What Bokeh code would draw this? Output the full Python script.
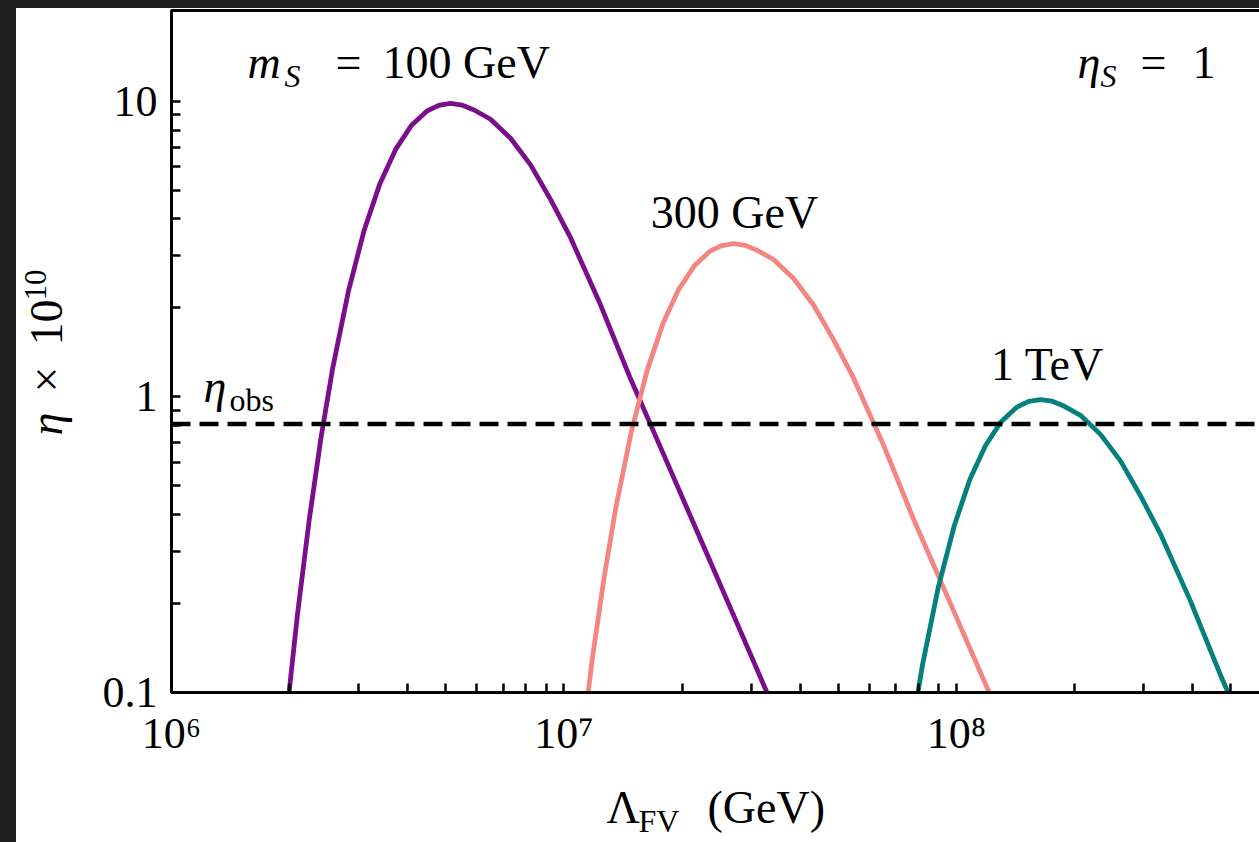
import math

from bokeh.core.properties import value
from bokeh.embed import file_html
from bokeh.layouts import column, row
from bokeh.models import FixedTicker, Span
from bokeh.plotting import figure
from bokeh.resources import INLINE

# Baryon asymmetry eta x 1e10 versus the flavour scale Lambda_FV (GeV), eta_S = 1
lam_100 = [1.977e6, 2.094e6, 2.244e6, 2.404e6, 2.576e6, 2.825e6, 3.097e6, 3.396e6,
           3.724e6, 4.083e6, 4.477e6, 4.797e6, 5.140e6, 5.508e6, 5.902e6, 6.501e6,
           7.311e6, 8.222e6, 9.247e6, 1.040e7, 1.239e7, 1.476e7, 1.762e7, 2.228e7,
           2.818e7, 3.357e7]
eta_100 = [0.0905, 0.1837, 0.3848, 0.728, 1.256, 2.287, 3.666, 5.269,
           6.88, 8.28, 9.28, 9.70, 9.84, 9.71, 9.35, 8.7,
           7.5, 6.1, 4.65, 3.45, 2.05, 1.156, 0.675, 0.330,
           0.161, 0.094]

lam_300 = [1.102e7, 1.180e7, 1.265e7, 1.355e7, 1.486e7, 1.629e7, 1.786e7, 1.959e7,
           2.148e7, 2.355e7, 2.523e7, 2.704e7, 2.897e7, 3.105e7, 3.420e7, 3.846e7,
           4.325e7, 4.864e7, 5.470e7, 6.516e7, 7.762e7, 9.268e7, 1.172e8, 1.483e8]
eta_300 = [0.0616, 0.1291, 0.2442, 0.4213, 0.767, 1.230, 1.767, 2.308,
           2.777, 3.113, 3.253, 3.300, 3.257, 3.136, 2.918, 2.516,
           2.046, 1.560, 1.157, 0.688, 0.388, 0.2264, 0.1107, 0.0540]

lam_1000 = [7.656e7, 8.204e7, 8.995e7, 9.863e7, 1.081e8, 1.186e8, 1.300e8, 1.426e8,
            1.528e8, 1.637e8, 1.754e8, 1.879e8, 2.070e8, 2.328e8, 2.618e8, 2.944e8,
            3.311e8, 3.945e8, 4.699e8, 5.610e8]
eta_1000 = [0.0725, 0.1251, 0.2278, 0.3651, 0.5248, 0.6852, 0.8247, 0.9243,
            0.9661, 0.980, 0.9671, 0.9313, 0.8665, 0.747, 0.6076, 0.4631,
            0.3436, 0.2042, 0.1151, 0.0672]

eta_obs = 0.81

x_major = [1e6, 1e7, 1e8]
x_major_labels = ["10⁶", "10⁷", "10⁸"]
y_major = [0.1, 1, 10]
y_major_labels = ["0.1", "1", "10"]

X_START, X_END = 1e6, 6.275e8
Y_START, Y_END = 0.1, 20.3

SERIF = "Liberation Serif"
BIG = 46
SMALL = 32

# ---- geometry of the three panels (pixels) ----
SIDE_W = 80          # strip holding the vertical axis title
MAIN_W, MAIN_H = 1173, 760
BORDER_L, BORDER_T, BORDER_B = 75, 2, 76
FOOT_H = 74          # strip holding the horizontal axis title
FRAME_W = MAIN_W - BORDER_L
FRAME_H = MAIN_H - BORDER_T - BORDER_B

p = figure(width=MAIN_W, height=MAIN_H,
           x_axis_type="log", y_axis_type="log",
           x_range=(X_START, X_END), y_range=(Y_START, Y_END),
           output_backend="svg", toolbar_location=None,
           min_border_left=BORDER_L, min_border_right=0,
           min_border_top=BORDER_T, min_border_bottom=BORDER_B)

p.background_fill_color = "white"
p.border_fill_color = "white"
p.outline_line_color = "black"
p.outline_line_width = 3
p.grid.visible = False

x_minor = [k * d for d in (1e6, 1e7, 1e8) for k in range(2, 10) if k * d < X_END]
y_minor = [k * d for d in (0.1, 1.0) for k in range(2, 10)]

p.xaxis.ticker = FixedTicker(ticks=x_major, minor_ticks=x_minor)
p.yaxis.ticker = FixedTicker(ticks=y_major, minor_ticks=y_minor)
p.xaxis.major_label_overrides = dict(zip(x_major, x_major_labels))
p.yaxis.major_label_overrides = dict(zip(y_major, y_major_labels))

for ax in (p.xaxis[0], p.yaxis[0]):
    ax.axis_line_width = 3
    ax.axis_line_color = "black"
    ax.major_tick_in = 9
    ax.major_tick_out = 0
    ax.minor_tick_in = 9
    ax.minor_tick_out = 0
    ax.major_tick_line_width = 2.5
    ax.minor_tick_line_width = 2.5
    ax.major_tick_line_color = "black"
    ax.minor_tick_line_color = "black"
    ax.major_label_text_font = SERIF
    ax.major_label_text_font_size = "44px"
    ax.major_label_text_color = "black"

p.xaxis.major_label_standoff = 16
p.yaxis.major_label_standoff = 14

# observed value
p.add_layout(Span(location=eta_obs, dimension="width", line_color="black",
                  line_width=4.5, line_dash="19 9"))

curves = [
    (lam_100, eta_100, "#7b0f8b"),
    (lam_300, eta_300, "#f38583"),
    (lam_1000, eta_1000, "#06807e"),
]
for xs, ys, color in curves:
    p.line(xs, ys, line_color=color, line_width=4.8, line_join="round", line_cap="round")


def put(fig, x, y, text, size=BIG, style="normal", align="left", angle=0.0):
    fig.text(x=[x], y=[y], text=[text], text_font=value(SERIF),
             text_font_size=value(f"{size}px"), text_font_style=value(style),
             text_align=value(align), text_baseline=value("alphabetic"),
             text_color="black", angle=angle)


def at(dx, dy):
    """Data coordinates of a point dx px right of and dy px above the frame's lower-left corner."""
    dec_x = FRAME_W / math.log10(X_END / X_START)
    dec_y = FRAME_H / math.log10(Y_END / Y_START)
    return X_START * 10 ** (dx / dec_x), Y_START * 10 ** (dy / dec_y)


# m_S = 100 GeV
put(p, *at(76, 630), "m", style="italic")
put(p, *at(113, 617), "S", size=SMALL, style="italic")
put(p, *at(164, 630), "=")
put(p, *at(211, 630), "100 GeV")

# eta_S = 1
put(p, *at(906, 630), "η", style="italic")
put(p, *at(929, 617), "S", size=SMALL, style="italic")
put(p, *at(969, 630), "=")
put(p, *at(1021, 630), "1")

# curve tags
put(p, *at(563, 480), "300 GeV", align="center")
put(p, *at(876, 328), "1 TeV", align="center")

# eta_obs
put(p, *at(32, 306), "η", style="italic")
put(p, *at(58, 293), "obs", size=SMALL)


def strip(width, height, top=0, bottom=0, y_span=None):
    f = figure(width=width, height=height,
               x_range=(0, width), y_range=(0, y_span if y_span else height),
               output_backend="svg", toolbar_location=None,
               min_border_left=0, min_border_right=0,
               min_border_top=top, min_border_bottom=bottom)
    f.axis.visible = False
    f.grid.visible = False
    f.outline_line_color = None
    f.background_fill_color = "white"
    f.border_fill_color = "white"
    return f


# strip with the vertical axis title: eta x 10^10 (frame lined up with the main frame)
side = strip(SIDE_W, MAIN_H, top=BORDER_T, bottom=BORDER_B, y_span=FRAME_H)
up = math.pi / 2
put(side, 30, 257, "η", style="italic", angle=up)
put(side, 30, 300, "×", angle=up)
put(side, 30, 347, "10", angle=up)
put(side, 19, 392, "10", size=31, angle=up)

# strip with the horizontal axis title: Lambda_FV (GeV)
foot = strip(SIDE_W + MAIN_W, FOOT_H)
put(foot, 590, 35, "Λ")
put(foot, 622, 22, "FV", size=SMALL)
put(foot, 691, 35, "(GeV)")

page = column(row(side, p, spacing=0), foot, spacing=0)

html = file_html(page, INLINE)
html = html.replace(
    "</head>",
    "<style>html{background:#fff;overflow:hidden}"
    "body{margin:0;background:#fff;overflow:hidden;"
    "border-left:16px solid #1f1f1f;border-top:8px solid #1f1f1f}</style></head>",
    1,
)
open("out.html", "w").write(html)
